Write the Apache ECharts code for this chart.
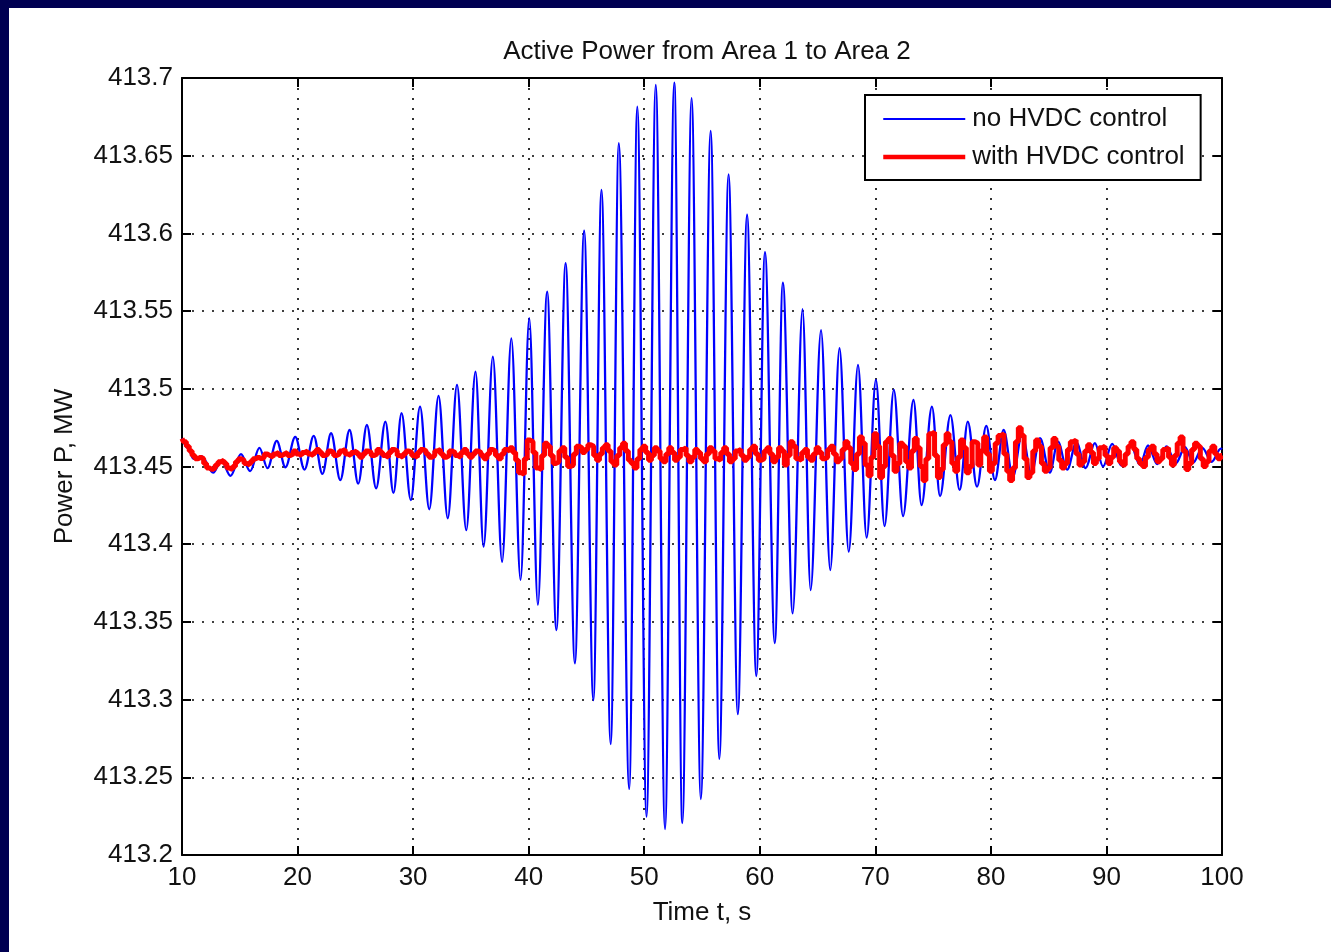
<!DOCTYPE html>
<html>
<head>
<meta charset="utf-8">
<script src="https://cdn.jsdelivr.net/npm/echarts@6/dist/echarts.min.js"></script>
<style>
  html, body { margin: 0; padding: 0; width: 1331px; height: 952px; background: #000052; overflow: hidden; }
  #bg { position: absolute; left: 9px; top: 8px; width: 1322px; height: 944px; background: #fff; }
  #chart { position: absolute; left: 0; top: 0; width: 1331px; height: 952px; }
</style>
</head>
<body>
<div id="bg"></div>
<div id="chart"></div>
<script>
// ---- Data ----
const titleText = 'Active Power from Area 1 to Area 2';
const xName = 'Time t, s';
const yName = 'Power P, MW';
const seriesNames = ['no HVDC control', 'with HVDC control'];

// Blue curve: times (s) and values (MW) of its successive extremes
const blueT = [10.0, 10.5, 11.0, 11.7, 12.7, 13.4, 14.2, 15.1, 15.9, 16.7, 17.4, 18.2, 18.95, 19.8, 20.6, 21.4, 22.15, 22.9, 23.7, 24.5,
  25.25, 26.0, 26.8, 27.6, 28.3, 29.0, 29.8, 30.6, 31.4, 32.2, 33.0, 33.8, 34.6, 35.4, 36.1, 36.9, 37.7, 38.5, 39.3, 40.05,
  40.8, 41.6, 42.4, 43.2, 44.0, 44.8, 45.6, 46.3, 47.1, 47.8, 48.7, 49.4, 50.2, 51.0, 51.8, 52.6, 53.3, 54.1, 54.9, 55.75,
  56.5, 57.3, 58.1, 58.9, 59.7, 60.45, 61.3, 62.0, 62.85, 63.7, 64.4, 65.3, 66.1, 66.9, 67.7, 68.5, 69.25, 70.05, 70.8, 71.6,
  72.4, 73.3, 74.0, 74.9, 75.6, 76.5, 77.3, 78.0, 78.8, 79.6, 80.35, 81.1, 81.9, 82.7, 83.5, 84.25, 85.1, 85.8, 86.6, 87.4,
  88.2, 89.0, 89.7, 90.5, 91.3, 92.1, 92.9, 93.6, 94.4, 95.2, 96.0, 96.8, 97.5, 98.3, 99.1, 99.9, 100.0];
const blueV = [413.468, 413.462, 413.455, 413.4565, 413.446, 413.454, 413.444, 413.458, 413.447, 413.462, 413.449, 413.4665, 413.4495, 413.469, 413.448, 413.4697, 413.4452, 413.4714, 413.4413, 413.4735,
  413.439, 413.4767, 413.436, 413.4789, 413.433, 413.4843, 413.4284, 413.4885, 413.4225, 413.4954, 413.4167, 413.5025, 413.409, 413.511, 413.3984, 413.5207, 413.3887, 413.5325, 413.377, 413.5454,
  413.3609, 413.5625, 413.3448, 413.5808, 413.3234, 413.6017, 413.2997, 413.628, 413.2714, 413.658, 413.2425, 413.6815, 413.2247, 413.6955, 413.2167, 413.697, 413.2206, 413.687, 413.236, 413.666,
  413.2618, 413.638, 413.2907, 413.612, 413.3152, 413.588, 413.3364, 413.5683, 413.3555, 413.5512, 413.3705, 413.5378, 413.3834, 413.5261, 413.3952, 413.5154, 413.4042, 413.5057, 413.4117, 413.4993,
  413.4181, 413.4928, 413.4252, 413.4885, 413.431, 413.4831, 413.4349, 413.4789, 413.437, 413.4761, 413.4413, 413.4735, 413.4434, 413.4714, 413.445, 413.4682, 413.446, 413.466, 413.448, 413.4655,
  413.449, 413.465, 413.45, 413.4645, 413.4505, 413.464, 413.451, 413.4635, 413.4515, 413.463, 413.452, 413.4625, 413.4525, 413.462, 413.453, 413.4615, 413.461];

// Red curve: values read every 0.25 s from t = 10 s to t = 100 s (one row = 5 s)
const redStart = 10, redStep = 0.25;
const redV = [
  413.468, 413.466, 413.463, 413.460, 413.457, 413.455, 413.456, 413.455, 413.452, 413.449, 413.448, 413.449, 413.451, 413.453, 413.454, 413.452, 413.449, 413.448, 413.450, 413.453,
  413.455, 413.454, 413.452, 413.451, 413.453, 413.455, 413.456, 413.455, 413.456, 413.458, 413.457, 413.456, 413.458, 413.459, 413.457, 413.458, 413.459, 413.457, 413.458, 413.460,
  413.458, 413.457, 413.459, 413.460, 413.458, 413.457, 413.459, 413.461, 413.459, 413.457, 413.458, 413.460, 413.459, 413.457, 413.458, 413.460, 413.461, 413.458, 413.457, 413.459,
  413.460, 413.458, 413.456, 413.458, 413.460, 413.459, 413.457, 413.458, 413.461, 413.459, 413.457, 413.456, 413.459, 413.461, 413.460, 413.457, 413.456, 413.458, 413.460, 413.459,
  413.457, 413.456, 413.459, 413.461, 413.460, 413.458, 413.456, 413.457, 413.460, 413.461, 413.458, 413.456, 413.457, 413.460, 413.459, 413.457, 413.456, 413.459, 413.461, 413.458,
  413.456, 413.458, 413.460, 413.459, 413.457, 413.455, 413.458, 413.461, 413.460, 413.457, 413.455, 413.458, 413.461, 413.460, 413.462, 413.459, 413.454, 413.446, 413.445, 413.455,
  413.467, 413.466, 413.459, 413.449, 413.448, 413.457, 413.465, 413.463, 413.457, 413.452, 413.453, 413.460, 413.462, 413.456, 413.450, 413.451, 413.458, 413.463, 413.462, 413.459,
  413.461, 413.464, 413.463, 413.457, 413.454, 413.458, 413.462, 413.464, 413.460, 413.453, 413.451, 413.457, 413.462, 413.465, 413.460, 413.454, 413.452, 413.449, 413.455, 413.461,
  413.463, 413.459, 413.454, 413.457, 413.462, 413.460, 413.455, 413.453, 413.458, 413.462, 413.459, 413.454, 413.456, 413.461, 413.462, 413.457, 413.453, 413.456, 413.461, 413.459,
  413.455, 413.453, 413.458, 413.462, 413.460, 413.455, 413.454, 413.459, 413.462, 413.458, 413.453, 413.455, 413.460, 413.461, 413.457, 413.454, 413.456, 413.461, 413.463, 413.458,
  413.454, 413.455, 413.460, 413.462, 413.458, 413.453, 413.456, 413.462, 413.460, 413.451, 413.457, 413.466, 413.463, 413.455, 413.454, 413.459, 413.461, 413.456, 413.454, 413.458,
  413.462, 413.459, 413.455, 413.456, 413.461, 413.463, 413.458, 413.453, 413.455, 413.461, 413.466, 413.462, 413.452, 413.448, 413.458, 413.469, 413.465, 413.451, 413.444, 413.456,
  413.471, 413.463, 413.443, 413.450, 413.466, 413.468, 413.457, 413.447, 413.452, 413.465, 413.463, 413.453, 413.449, 413.460, 413.468, 413.462, 413.450, 413.441, 413.455, 413.471,
  413.472, 413.457, 413.443, 413.448, 413.464, 413.471, 413.466, 413.452, 413.447, 413.456, 413.467, 413.462, 413.446, 413.450, 413.466, 413.465, 413.451, 413.460, 413.469, 413.458,
  413.447, 413.452, 413.465, 413.470, 413.471, 413.458, 413.447, 413.441, 413.449, 413.466, 413.475, 413.470, 413.455, 413.443, 413.446, 413.460, 413.467, 413.463, 413.452, 413.447,
  413.449, 413.462, 413.468, 413.463, 413.454, 413.449, 413.452, 413.461, 413.466, 413.467, 413.458, 413.451, 413.453, 413.460, 413.464, 413.459, 413.452, 413.455, 413.462, 413.463,
  413.457, 413.452, 413.456, 413.462, 413.460, 413.453, 413.451, 413.458, 413.463, 413.466, 413.461, 413.455, 413.452, 413.450, 413.456, 413.461, 413.463, 413.458, 413.453, 413.455,
  413.461, 413.462, 413.456, 413.451, 413.457, 413.465, 413.469, 413.460, 413.448, 413.452, 413.461, 413.465, 413.463, 413.455, 413.450, 413.453, 413.460, 413.463, 413.458, 413.455,
  413.457];

// Axis ranges / ticks
const xMin = 10, xMax = 100, xStep = 10;
const yMin = 413.2, yMax = 413.7, yStep = 0.05;

// ---- Build chart ----
const FONT = '"Liberation Sans", Arial, Helvetica, sans-serif';
const TXT = '#111';
const blueData = blueT.map((t, i) => [t, blueV[i]]);
const redData = redV.map((v, i) => [redStart + i * redStep, v]);

const axisLine = { show: true, onZero: false, lineStyle: { color: '#000', width: 2 } };
const axisTick = { show: true, inside: true, length: 9, lineStyle: { color: '#000', width: 2 } };
const gridLine = { show: true, lineStyle: { color: '#000', width: 1.6, type: [2, 8] } };
const yFmt = v => String(parseFloat(Number(v).toFixed(2)));

const chart = echarts.init(document.getElementById('chart'), null, { renderer: 'canvas' });
chart.setOption({
  backgroundColor: 'transparent',
  animation: false,
  title: {
    text: titleText, left: 702, top: 34, textAlign: 'center',
    textStyle: { fontFamily: FONT, fontSize: 26, fontWeight: 'normal', color: TXT }
  },
  grid: { left: 182, right: 109, top: 78, bottom: 97, containLabel: false },
  legend: {
    orient: 'vertical', left: 865, top: 95,
    backgroundColor: '#fff', borderColor: '#000', borderWidth: 2, borderRadius: 0,
    padding: [11, 16, 10, 16], itemGap: 12, itemWidth: 82, itemHeight: 26,
    itemStyle: { opacity: 0 },
    textStyle: { fontFamily: FONT, fontSize: 26, color: TXT, padding: [0, 0, 0, 2] },
    data: [
      { name: seriesNames[0], itemStyle: { opacity: 0 }, lineStyle: { width: 2 } },
      { name: seriesNames[1], itemStyle: { opacity: 0 }, lineStyle: { width: 4.5 } }
    ]
  },
  xAxis: [
    {
      type: 'value', min: xMin, max: xMax, interval: xStep,
      name: xName, nameLocation: 'middle', nameGap: 45,
      nameTextStyle: { fontFamily: FONT, fontSize: 26, color: TXT },
      axisLine: axisLine, axisTick: axisTick,
      axisLabel: { fontFamily: FONT, fontSize: 26, color: TXT, margin: 10 },
      splitLine: gridLine
    },
    {
      type: 'value', position: 'top', min: xMin, max: xMax, interval: xStep,
      axisLine: axisLine, axisTick: axisTick, axisLabel: { show: false }, splitLine: { show: false }
    }
  ],
  yAxis: [
    {
      type: 'value', min: yMin, max: yMax, interval: yStep,
      name: yName, nameLocation: 'middle', nameGap: 104, nameRotate: 90,
      nameTextStyle: { fontFamily: FONT, fontSize: 26, color: TXT },
      axisLine: axisLine, axisTick: axisTick,
      axisLabel: { fontFamily: FONT, fontSize: 26, color: TXT, margin: 9, formatter: yFmt },
      splitLine: gridLine
    },
    {
      type: 'value', position: 'right', min: yMin, max: yMax, interval: yStep,
      axisLine: axisLine, axisTick: axisTick, axisLabel: { show: false }, splitLine: { show: false }
    }
  ],
  series: [
    {
      name: seriesNames[0], type: 'line', data: blueData,
      symbol: 'none', smooth: 0.35, smoothMonotone: 'x',
      lineStyle: { color: '#0000ff', width: 2.3 }, itemStyle: { color: '#0000ff' },
      z: 2
    },
    {
      name: seriesNames[1], type: 'line', data: redData,
      symbol: 'none', step: 'middle',
      lineStyle: { color: '#ff0000', width: 5 }, itemStyle: { color: '#ff0000' },
      z: 3
    }
  ]
});
</script>
</body>
</html>
